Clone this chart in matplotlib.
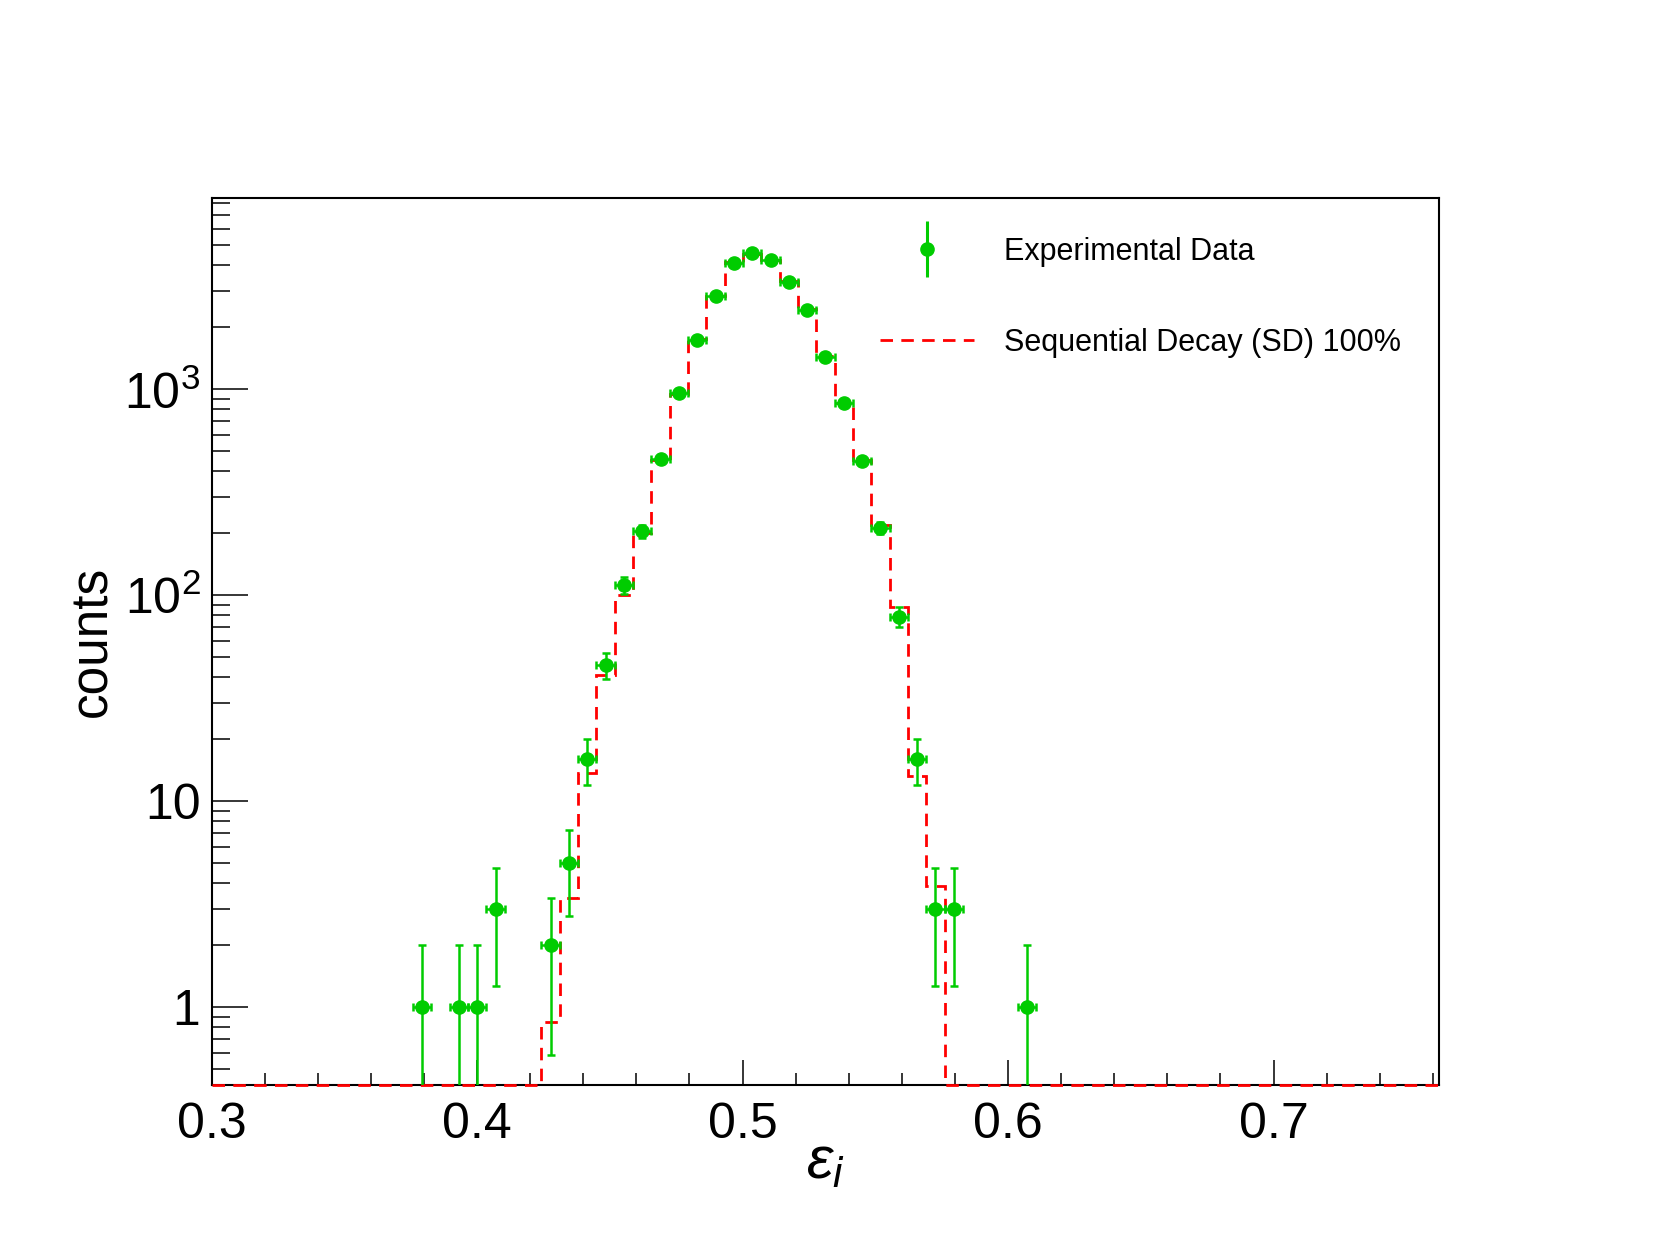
import numpy as np
import matplotlib
matplotlib.use("Agg")
import matplotlib.pyplot as plt
from matplotlib import ticker
from matplotlib.lines import Line2D

plt.rcParams['font.family'] = ['Liberation Sans', 'DejaVu Sans']
plt.rcParams['mathtext.fontset'] = 'custom'
plt.rcParams['mathtext.rm'] = 'Liberation Sans'
plt.rcParams['mathtext.it'] = 'Liberation Sans:italic'
plt.rcParams['mathtext.bf'] = 'Liberation Sans:bold'

# ---- binning ----
x_min, x_max, n_bins = 0.3, 0.7625, 67

# ---- experimental counts per bin ----
data_counts = [0, 0, 0, 0, 0, 0, 0, 0, 0, 0,
               0, 1, 0, 1, 1, 3, 0, 0, 2, 5,
               16, 46, 112, 205, 461, 964, 1745, 2843, 4111, 4575,
               4262, 3320, 2436, 1445, 858, 451, 213, 79, 16, 3,
               3, 0, 0, 0, 1, 0, 0, 0, 0, 0,
               0, 0, 0, 0, 0, 0, 0, 0, 0, 0,
               0, 0, 0, 0, 0, 0, 0]

# ---- sequential decay simulation per bin ----
sd_counts = [0, 0, 0, 0, 0, 0, 0, 0, 0, 0,
             0, 0, 0, 0, 0, 0, 0, 0, 0.85, 3.4,
             13.7, 41, 101, 200, 455, 950, 1760, 2850, 4150, 4560,
             4250, 3350, 2450, 1450, 860, 455, 220, 88, 13.3, 3.9,
             0, 0, 0, 0, 0, 0, 0, 0, 0, 0,
             0, 0, 0, 0, 0, 0, 0, 0, 0, 0,
             0, 0, 0, 0, 0, 0, 0]

labels = ["Experimental Data", "Sequential Decay (SD) 100%"]
y_lim = (0.42, 8550)

green = '#00cc00'
red = '#ff0000'

edges = np.linspace(x_min, x_max, n_bins + 1)
centers = 0.5 * (edges[:-1] + edges[1:])
half_w = 0.5 * (edges[1] - edges[0])
data = np.array(data_counts, dtype=float)
sd = np.array(sd_counts, dtype=float)

fig = plt.figure(figsize=(16.67, 12.5), dpi=100)
ax = fig.add_axes([0.1269, 0.132, 0.7366, 0.710])
ax.set_yscale('log')
ax.set_xlim(x_min, x_max)
ax.set_ylim(*y_lim)

# SD histogram (dashed red step)
ax.stairs(np.maximum(sd, y_lim[0]), edges, color=red, lw=2.0,
          linestyle=(0, (4.5, 3)), baseline=None, zorder=3, clip_on=False)

# experimental points
m = data > 0
ax.errorbar(centers[m], data[m], yerr=np.sqrt(data[m]),
            xerr=np.full(m.sum(), half_w), fmt='o', color=green, ms=9.5,
            elinewidth=1.8, capsize=2.6, capthick=1.8, zorder=4)

# axes styling
for s in ax.spines.values():
    s.set_linewidth(1.5)
    s.set_zorder(2.5)

ax.xaxis.set_major_locator(ticker.MultipleLocator(0.1))
ax.xaxis.set_minor_locator(ticker.MultipleLocator(0.02))
ax.xaxis.set_major_formatter(ticker.FormatStrFormatter('%.1f'))
ax.yaxis.set_major_locator(ticker.LogLocator(base=10, numticks=10))
ax.yaxis.set_minor_locator(ticker.LogLocator(base=10, subs=np.arange(2, 10), numticks=20))
ax.yaxis.set_minor_formatter(ticker.NullFormatter())


def yfmt(v, _):
    e = int(round(np.log10(v)))
    if e == 0:
        return '1'
    if e == 1:
        return '10'
    return r'$10^{%d}$' % e


ax.yaxis.set_major_formatter(ticker.FuncFormatter(yfmt))

ax.tick_params(axis='both', which='both', direction='in', top=False, right=False,
               width=1.1, color='black')
ax.tick_params(axis='x', which='major', length=18, labelsize=36, pad=12)
ax.tick_params(axis='x', which='minor', length=9)
ax.tick_params(axis='y', which='major', length=26, labelsize=36, pad=8)
ax.tick_params(axis='y', which='minor', length=13)

ax.set_xlabel(r'$\varepsilon_{i}$', fontsize=43, va='center')
ax.xaxis.set_label_coords(0.5, -0.088)
ax.set_ylabel('counts', fontsize=37, va='center')
ax.yaxis.set_label_coords(-0.097, 0.5)

# legend
h_data = (Line2D([], [], marker='|', ls='', color=green, ms=40, mew=2.2),
          Line2D([], [], marker='o', ls='', color=green, ms=9.5))
h_sd = Line2D([], [], color=red, lw=2.0, linestyle=(0, (4.5, 3)))
ax.legend(handles=[h_data, h_sd], labels=labels, loc='upper left',
          bbox_to_anchor=(0.5443, 0.9555), frameon=False, fontsize=22,
          handlelength=3.07, handletextpad=1.0, labelspacing=2.0,
          borderpad=0, borderaxespad=0)

fig.savefig('out.png', dpi=100)
